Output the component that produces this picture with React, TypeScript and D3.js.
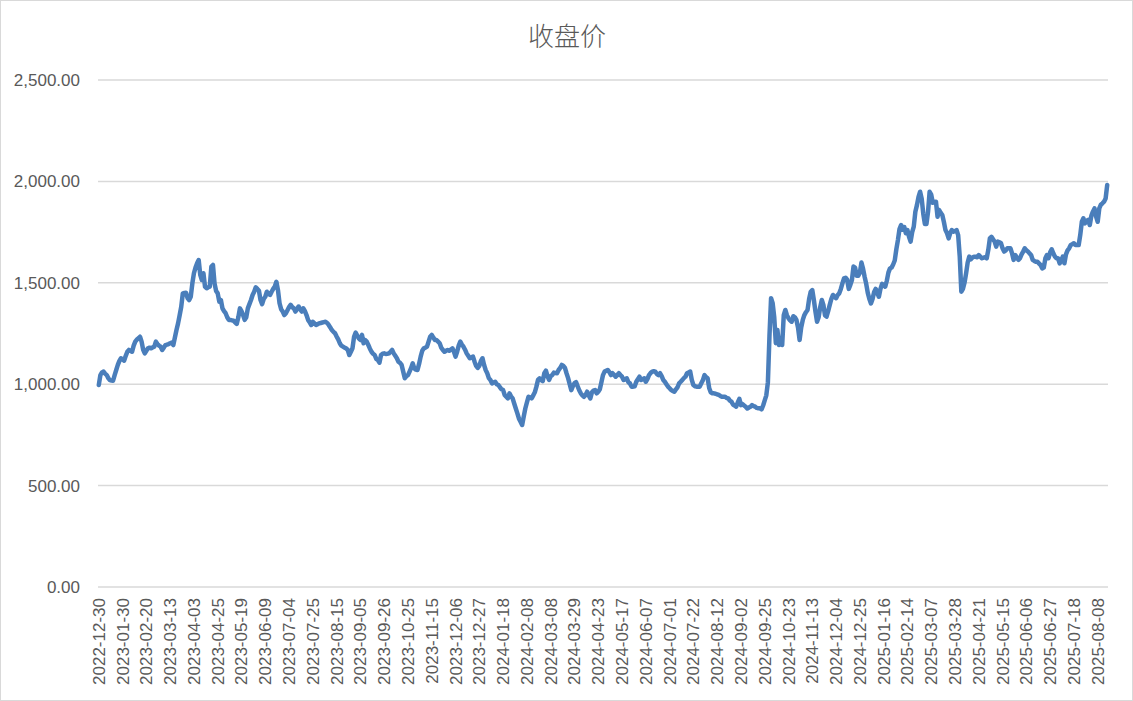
import * as d3 from "d3";

// 收盘价, one value per trading day from 2022-12-30
const closeValues = [
  996, 1045, 1058, 1062, 1052, 1045, 1030, 1020, 1018, 1017,
  1045, 1070, 1095, 1115, 1128, 1122, 1116, 1140, 1160, 1169,
  1165, 1160, 1190, 1210, 1220, 1226, 1234, 1210, 1169, 1152,
  1165, 1177, 1180, 1177, 1182, 1185, 1210, 1198, 1190, 1185,
  1169, 1180, 1193, 1195, 1198, 1202, 1205, 1193, 1230, 1267,
  1300, 1340, 1382, 1448, 1450, 1451, 1425, 1415, 1431, 1497,
  1547, 1575, 1596, 1612, 1539, 1514, 1547, 1481, 1473, 1478,
  1481, 1580, 1588, 1497, 1460, 1448, 1407, 1415, 1374, 1360,
  1350, 1330, 1317, 1317, 1315, 1313, 1305, 1297, 1330, 1374,
  1360, 1341, 1317, 1330, 1374, 1395, 1415, 1440, 1456, 1478,
  1470, 1461, 1415, 1395, 1420, 1431, 1456, 1445, 1440, 1456,
  1470, 1481, 1505, 1464, 1399, 1370, 1358, 1341, 1350, 1365,
  1380, 1391, 1380, 1374, 1358, 1370, 1383, 1370, 1358, 1374,
  1360, 1341, 1317, 1305, 1292, 1308, 1300, 1292, 1296, 1300,
  1302, 1304, 1306, 1308, 1302, 1292, 1280, 1267, 1258, 1251,
  1235, 1221, 1202, 1190, 1185, 1180, 1177, 1169, 1144, 1160,
  1177, 1234, 1254, 1240, 1226, 1218, 1243, 1202, 1218, 1210,
  1193, 1175, 1160, 1150, 1144, 1125, 1119, 1106, 1144, 1150,
  1152, 1149, 1150, 1152, 1160, 1169, 1152, 1140, 1128, 1111,
  1105, 1095, 1062, 1029, 1040, 1045, 1062, 1080, 1103, 1078,
  1072, 1070, 1100, 1136, 1165, 1177, 1180, 1185, 1210, 1234,
  1243, 1230, 1218, 1218, 1210, 1202, 1180, 1169, 1160, 1165,
  1169, 1165, 1170, 1177, 1160, 1136, 1160, 1190, 1210, 1195,
  1185, 1170, 1152, 1140, 1128, 1132, 1136, 1111, 1090, 1080,
  1090, 1115, 1128, 1095, 1070, 1054, 1030, 1021, 1004, 1008,
  1012, 1000, 996, 985, 975, 971, 947, 938, 930, 955,
  940, 930, 905, 880, 856, 830, 815, 799, 840, 880,
  910, 938, 935, 930, 945, 960, 988, 1021, 1029, 1020,
  1015, 1054, 1067, 1040, 1021, 1040, 1045, 1057, 1055, 1054,
  1070, 1080, 1095, 1090, 1080, 1054, 1030, 1000, 971, 990,
  1005, 1010, 990, 970, 955, 945, 938, 947, 963, 945,
  930, 960, 968, 971, 955, 963, 975, 1010, 1045, 1062,
  1066, 1070, 1060, 1045, 1054, 1046, 1037, 1045, 1054, 1045,
  1037, 1021, 1025, 1029, 1010, 1004, 988, 988, 990, 1012,
  1025, 1037, 1021, 1025, 1029, 1012, 1025, 1045, 1055, 1062,
  1064, 1062, 1050, 1045, 1054, 1040, 1021, 1012, 1000, 988,
  980, 971, 967, 963, 975, 985, 1004, 1012, 1021, 1030,
  1037, 1054, 1058, 1062, 1021, 996, 990, 988, 988, 988,
  1005, 1020, 1045, 1035, 1029, 980, 960, 955, 955, 953,
  950, 947, 942, 938, 938, 938, 932, 930, 919, 914,
  900, 895, 889, 910, 928, 897, 902, 895, 889, 880,
  885, 889, 897, 892, 889, 883, 881, 881, 876, 895,
  920, 945, 1010, 1240, 1424, 1399, 1330, 1202, 1267, 1193,
  1226, 1193, 1340, 1366, 1340, 1325, 1315, 1308, 1335, 1330,
  1317, 1280, 1218, 1280, 1317, 1341, 1355, 1366, 1420, 1456,
  1464, 1415, 1358, 1308, 1330, 1380, 1415, 1391, 1340, 1333,
  1360, 1391, 1420, 1440, 1430, 1424, 1440, 1448, 1470, 1497,
  1522, 1525, 1515, 1470, 1490, 1514, 1580, 1575, 1535, 1535,
  1550, 1600, 1570, 1530, 1495, 1450, 1420, 1398, 1420, 1455,
  1470, 1450, 1431, 1470, 1495, 1490, 1481, 1510, 1550, 1571,
  1575, 1590, 1610, 1665, 1711, 1765, 1785, 1762, 1775, 1744,
  1760, 1727, 1703, 1750, 1777, 1850, 1883, 1924, 1949, 1915,
  1840, 1790, 1790, 1850, 1949, 1935, 1895, 1898, 1900, 1826,
  1859, 1845, 1834, 1800, 1760, 1744, 1719, 1745, 1760, 1752,
  1755, 1760, 1735, 1629, 1456, 1470, 1500, 1547, 1600, 1629,
  1616, 1625, 1629, 1628, 1626, 1637, 1628, 1621, 1624, 1626,
  1621, 1662, 1719, 1727, 1715, 1703, 1678, 1703, 1700, 1695,
  1670, 1654, 1660, 1670, 1670, 1670, 1645, 1613, 1637, 1625,
  1613, 1621, 1640, 1654, 1670, 1660, 1654, 1645, 1637, 1613,
  1608, 1604, 1604, 1595, 1588, 1571, 1575, 1621, 1637, 1621,
  1650, 1665, 1645, 1630, 1621, 1621, 1596, 1610, 1629, 1596,
  1640, 1660, 1670, 1686, 1690, 1695, 1686, 1686, 1686, 1736,
  1801, 1818, 1793, 1805, 1810, 1785, 1830, 1851, 1867, 1826,
  1801, 1867, 1885, 1892, 1900, 1916, 1982,
];

// category labels, shown every 15 trading days
const tickLabels = [
  "2022-12-30", "2023-01-30", "2023-02-20", "2023-03-13", "2023-04-03",
  "2023-04-25", "2023-05-19", "2023-06-09", "2023-07-04", "2023-07-25",
  "2023-08-15", "2023-09-05", "2023-09-26", "2023-10-25", "2023-11-15",
  "2023-12-06", "2023-12-27", "2024-01-18", "2024-02-08", "2024-03-08",
  "2024-03-29", "2024-04-23", "2024-05-17", "2024-06-07", "2024-07-01",
  "2024-07-22", "2024-08-12", "2024-09-02", "2024-09-25", "2024-10-23",
  "2024-11-13", "2024-12-04", "2024-12-25", "2025-01-16", "2025-02-14",
  "2025-03-07", "2025-03-28", "2025-04-21", "2025-05-15", "2025-06-06",
  "2025-06-27", "2025-07-18", "2025-08-08",
];
const tickStep = 15;

const yTicks = [0, 500, 1000, 1500, 2000, 2500];

const W = 1133;
const H = 701;
const plot = { left: 98, right: 1108, top: 80, bottom: 587 };

const labelFont = "'Liberation Sans', Arial, sans-serif";
const textColor = "#595959";

export default function App() {
  const idx = closeValues.map((_, i) => i);

  const x = d3
    .scalePoint<number>()
    .domain(idx)
    .range([plot.left, plot.right])
    .padding(0.5);

  const y = d3.scaleLinear().domain([0, 2500]).range([plot.bottom, plot.top]);

  const line = d3
    .line<number>()
    .x((_, i) => x(i)!)
    .y((d) => y(d));

  const fmt = d3.format(",.2f");

  return (
    <svg
      width={W}
      height={H}
      style={{ position: "absolute", left: 0, top: 0, display: "block" }}
    >
      <rect x={0.5} y={0.5} width={W - 1} height={H - 1} fill="#fff" stroke="#d9d9d9" />

      <text
        x={567}
        y={46}
        textAnchor="middle"
        fontFamily="'Noto Sans CJK SC', sans-serif"
        fontWeight={300}
        fontSize={26}
        fill={textColor}
      >
        收盘价
      </text>

      {/* gridlines + y labels */}
      {yTicks.map((t) => (
        <g key={t}>
          <line
            x1={plot.left}
            x2={plot.right}
            y1={y(t)}
            y2={y(t)}
            stroke="#d9d9d9"
            strokeWidth={1.5}
          />
          <text
            x={80}
            y={y(t)}
            dy="0.35em"
            textAnchor="end"
            fontFamily={labelFont}
            fontSize={17}
            fill={textColor}
          >
            {fmt(t)}
          </text>
        </g>
      ))}

      {/* category labels */}
      {tickLabels.map((lab, k) => {
        const px = x(k * tickStep)!;
        return (
          <text
            key={lab}
            transform={`translate(${px + 6},${598}) rotate(-90)`}
            textAnchor="end"
            fontFamily={labelFont}
            fontSize={17}
            fill={textColor}
          >
            {lab}
          </text>
        );
      })}

      <path
        d={line(closeValues) ?? ""}
        fill="none"
        stroke="#4a7ebb"
        strokeWidth={4.5}
        strokeLinejoin="round"
        strokeLinecap="round"
      />
    </svg>
  );
}
